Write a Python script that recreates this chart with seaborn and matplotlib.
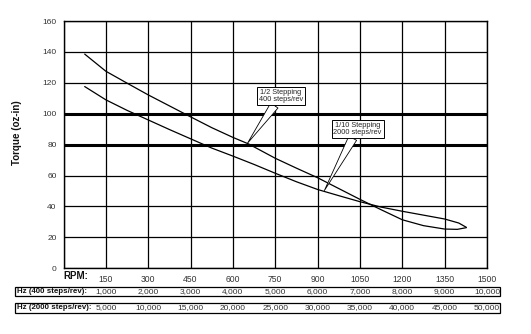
import matplotlib
matplotlib.use("Agg")
import matplotlib.pyplot as plt
import seaborn as sns
import pandas as pd
from matplotlib.patches import Rectangle
from matplotlib.transforms import blended_transform_factory

# Torque curves (oz-in) against speed (RPM)
half_rpm = [75, 150, 225, 300, 375, 450, 525, 600, 655, 750, 825, 900, 975,
            1050, 1125, 1200, 1275, 1350, 1395, 1427]
half_torque = [138.6, 127.5, 119.8, 112.2, 105.1, 98.0, 91.0, 84.7, 80.5, 71.2,
               64.8, 58.6, 51.6, 44.6, 37.9, 31.4, 27.6, 25.4, 25.2, 26.3]

tenth_rpm = [75, 150, 225, 300, 375, 450, 525, 600, 675, 750, 825, 900, 975,
             1050, 1125, 1200, 1275, 1350, 1400, 1427]
tenth_torque = [117.6, 109.0, 102.2, 96.0, 89.8, 83.8, 77.8, 72.6, 67.2, 61.5,
                56.0, 51.0, 47.0, 43.1, 39.6, 36.9, 34.4, 31.9, 29.3, 26.5]

series_names = ["1/2 Stepping\n400 steps/rev", "1/10 Stepping\n2000 steps/rev"]

rpm_ticks = [150, 300, 450, 600, 750, 900, 1050, 1200, 1350, 1500]
hz_400 = [1000, 2000, 3000, 4000, 5000, 6000, 7000, 8000, 9000, 10000]
hz_2000 = [5000, 10000, 15000, 20000, 25000, 30000, 35000, 40000, 45000, 50000]
torque_ticks = [0, 20, 40, 60, 80, 100, 120, 140, 160]

sns.set_theme(style="white")
plt.rcParams["font.family"] = ["Liberation Sans", "DejaVu Sans"]

df = pd.concat([
    pd.DataFrame({"rpm": half_rpm, "torque": half_torque, "mode": series_names[0]}),
    pd.DataFrame({"rpm": tenth_rpm, "torque": tenth_torque, "mode": series_names[1]}),
], ignore_index=True)

fig = plt.figure(figsize=(5.31, 3.34), dpi=100)
ax = fig.add_axes([0.1196, 0.1967, 0.7975, 0.7404])

sns.lineplot(data=df, x="rpm", y="torque", hue="mode",
             palette=["black", "black"], estimator=None, sort=False,
             legend=False, linewidth=0.9, ax=ax)

ax.set_xlim(0, 1500)
ax.set_ylim(0, 160)
ax.set_xticks([0] + rpm_ticks)
ax.set_xticklabels([""] + [str(v) for v in rpm_ticks], fontsize=6.2, color="#333333")
ax.set_yticks(torque_ticks)
ax.set_yticklabels([str(v) for v in torque_ticks], fontsize=6, color="#333333")
ax.tick_params(axis="both", direction="out", length=2, width=0.8, color="black")
ax.tick_params(axis="x", pad=3)
ax.tick_params(axis="y", pad=3)
ax.set_xlabel("")
ax.set_ylabel("Torque (oz-in)", fontsize=7, fontweight="bold", color="#111111")
ax.yaxis.set_label_coords(-0.098, 0.547)

# grid: thin black lines, heavier rules at 80 and 100
ax.grid(True, color="black", linewidth=0.9)
for val, line in zip(torque_ticks, ax.yaxis.get_gridlines()):
    if val in (80, 100):
        line.set_linewidth(2.2)
for sp in ax.spines.values():
    sp.set_color("black")
    sp.set_linewidth(1.0)

# callouts
box = dict(boxstyle="square,pad=0.25", fc="white", ec="black", lw=0.7)
wedge = dict(arrowstyle="wedge,tail_width=1.2", fc="white", ec="black", lw=0.6,
             shrinkA=0, shrinkB=0)
ax.annotate(series_names[0], xy=(652, 81.0), xytext=(770, 111.3),
            fontsize=5.3, ha="center", va="center", linespacing=1.0,
            bbox=box, arrowprops=wedge)
ax.annotate(series_names[1], xy=(924, 50.3), xytext=(1042, 90.1),
            fontsize=5.3, ha="center", va="center", linespacing=1.0,
            bbox=box, arrowprops=wedge)

# speed / step-rate table under the axis
tr = blended_transform_factory(ax.transData, fig.transFigure)
fig.text(0.0, 0.1746, "RPM:", transform=tr, fontsize=7, fontweight="bold",
         ha="left", va="center", color="#111111")

rows = [(0.1138, 0.1416, "Hz (400 steps/rev):", hz_400),
        (0.0638, 0.0937, "Hz (2000 steps/rev):", hz_2000)]
for y0, y1, label, vals in rows:
    fig.add_artist(Rectangle((0.0282, y0), 0.9134, y1 - y0,
                             transform=fig.transFigure, fill=False,
                             ec="black", lw=0.9))
    yc = (y0 + y1) / 2
    fig.text(0.032, yc, label, fontsize=5.7, fontweight="bold",
             ha="left", va="center", color="#111111")
    for x, v in zip(rpm_ticks, vals):
        fig.text(x, yc, f"{v:,}", transform=tr, fontsize=6,
                 ha="center", va="center", color="#333333")

fig.savefig("out.png", dpi=100, facecolor="white")
